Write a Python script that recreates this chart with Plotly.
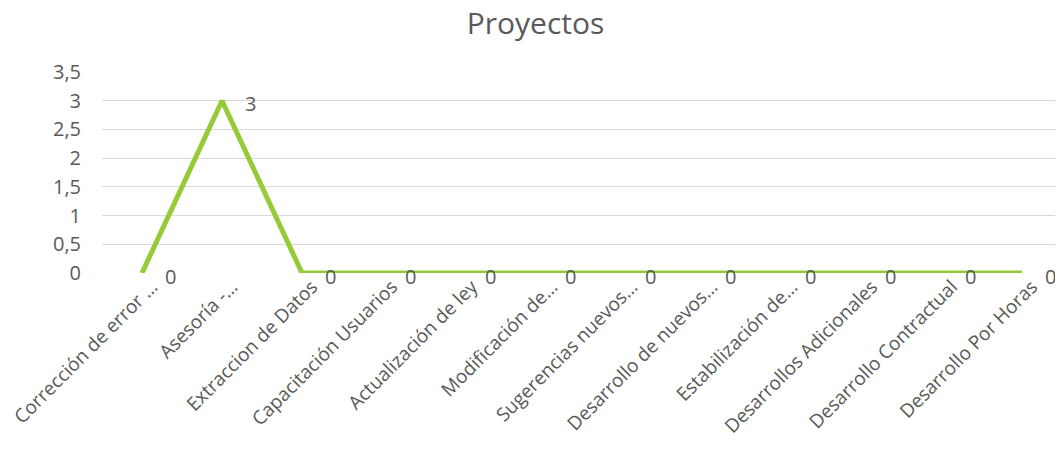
import plotly.graph_objects as go

categories = [
    "Corrección de error …", "Asesoría -…", "Extraccion de Datos", "Capacitación Usuarios",
    "Actualización de ley", "Modificación de…", "Sugerencias nuevos…", "Desarrollo de nuevos…",
    "Estabilización de…", "Desarrollos Adicionales", "Desarrollo Contractual", "Desarrollo Por Horas",
]
values = [0, 3, 0, 0, 0, 0, 0, 0, 0, 0, 0, 0]
y_ticks = [0, 0.5, 1, 1.5, 2, 2.5, 3, 3.5]
y_tick_labels = ["0", "0,5", "1", "1,5", "2", "2,5", "3", "3,5"]

FONT = "Open Sans, Segoe UI, sans-serif"
GREY = "#595959"

W, H = 1055, 457

fig = go.Figure()
fig.add_trace(go.Scatter(
    x=categories, y=values, mode="lines",
    line=dict(color="#96CB38", width=5),
    cliponaxis=False, hoverinfo="x+y", showlegend=False,
))

for c, v in zip(categories, values):
    fig.add_annotation(
        x=c, y=v, text=str(v).replace(".", ","), showarrow=False,
        xshift=28, yshift=-3, font=dict(family=FONT, size=20, color=GREY),
    )

fig.update_layout(
    width=W, height=H,
    margin=dict(l=94, r=1, t=64, b=192, autoexpand=False),
    paper_bgcolor="white", plot_bgcolor="white",
    title=dict(text="Proyectos", x=0.5, xanchor="center", xref="container",
               y=1 - 15 / H, yref="container", yanchor="middle",
               font=dict(family=FONT, size=30, color=GREY)),
    font=dict(family=FONT, size=20, color=GREY),
    xaxis=dict(type="category", range=[-0.5, len(categories) - 0.5], showgrid=False,
               tickangle=-45, ticks="", showline=False, zeroline=False, automargin=False,
               ticklabelshift=10, ticklabelstandoff=-2,
               tickfont=dict(family=FONT, size=19, color=GREY)),
    yaxis=dict(range=[0, 3.5], tickvals=y_ticks, ticktext=y_tick_labels,
               showgrid=True, gridcolor="#D9D9D9", gridwidth=1, zeroline=False,
               ticks="", ticklabelstandoff=20, automargin=False,
               tickfont=dict(family=FONT, size=20, color=GREY)),
)

fig.write_html("out.html")
